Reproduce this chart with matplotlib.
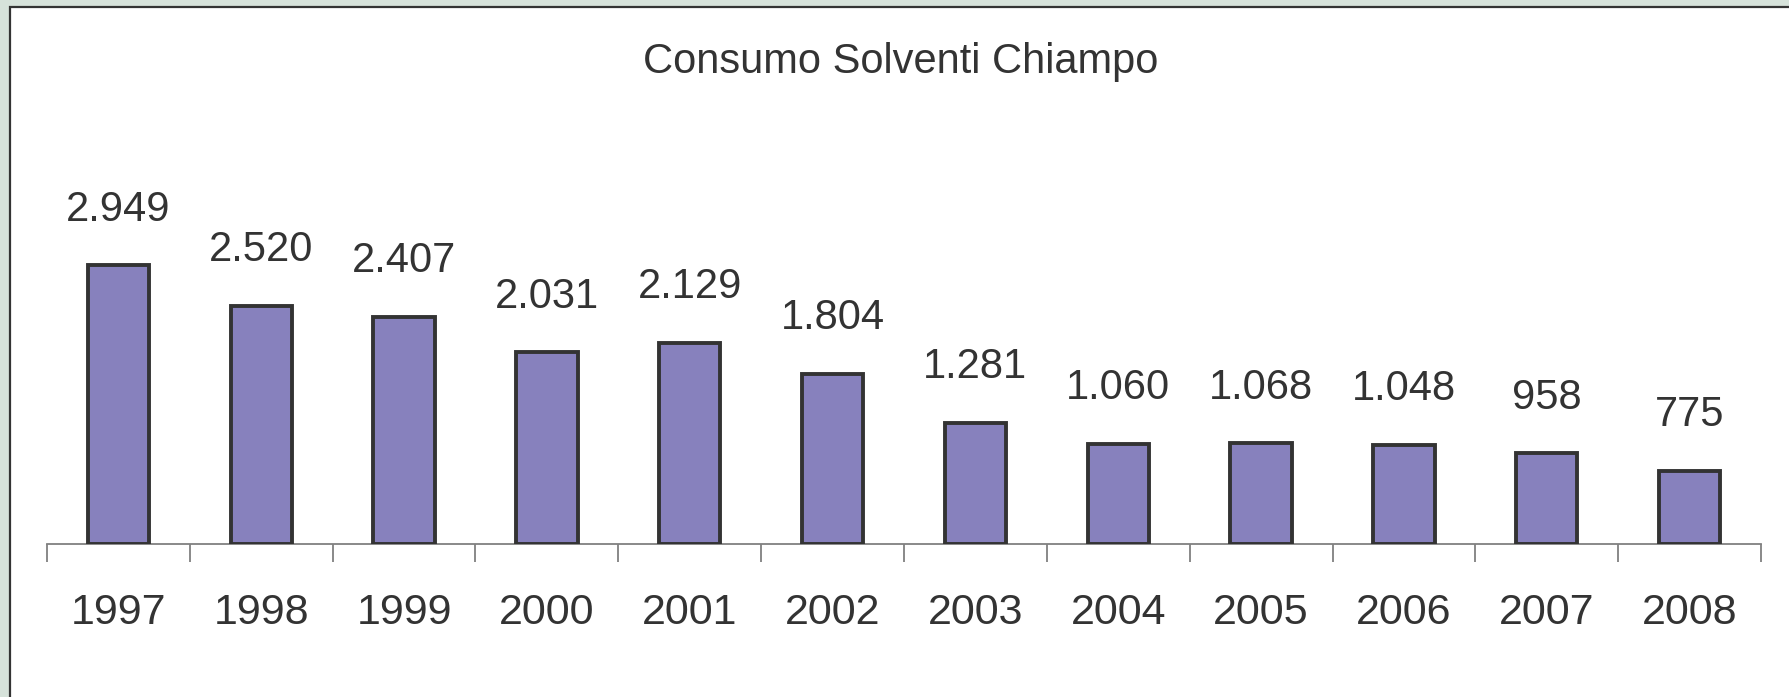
import matplotlib
matplotlib.use('Agg')
import matplotlib.pyplot as plt
from matplotlib.patches import Rectangle

# --- Data ---
years = ['1997', '1998', '1999', '2000', '2001', '2002',
         '2003', '2004', '2005', '2006', '2007', '2008']
consumo = [2949, 2520, 2407, 2031, 2129, 1804, 1281, 1060, 1068, 1048, 958, 775]
value_labels = ['2.949', '2.520', '2.407', '2.031', '2.129', '1.804',
                '1.281', '1.060', '1.068', '1.048', '958', '775']
title = 'Consumo Solventi Chiampo'

FONT = ['Liberation Sans', 'DejaVu Sans']
TEXT_COL = '#333333'
BAR_COL = '#8781bd'

fig = plt.figure(figsize=(17.89, 6.97), dpi=100, facecolor='#d6e2da')

# white chart panel with dark border (behind everything)
panel = Rectangle((10 / 1789, -0.01), 1.02, (697 - 7) / 697 + 0.01,
                  transform=fig.transFigure, facecolor='white',
                  edgecolor='#333333', linewidth=1.6, zorder=-10)
fig.patches.append(panel)

ax = fig.add_axes([47 / 1789, (697 - 544) / 697, (1761 - 47) / 1789, 378 / 697])
ax.set_facecolor('none')
ax.set_zorder(5)

x = list(range(len(years)))
bars = ax.bar(x, consumo, width=0.43, color=BAR_COL, edgecolor='#333333',
              linewidth=2.8, zorder=3)

for rect, lab in zip(bars, value_labels):
    ax.annotate(lab, (rect.get_x() + rect.get_width() / 2, rect.get_height()),
                xytext=(0, 40), textcoords='offset points', ha='center', va='center',
                fontsize=30, family=FONT, color=TEXT_COL, annotation_clip=False)

ax.set_xlim(-0.5, len(years) - 0.5)
ax.set_ylim(0, 4000)

for s in ['top', 'left', 'right']:
    ax.spines[s].set_visible(False)
ax.spines['bottom'].set_color('#808080')
ax.spines['bottom'].set_linewidth(1.3)

ax.set_yticks([])
ax.set_xticks(x)
ax.set_xticklabels(years, fontsize=31, family=FONT, color=TEXT_COL)
ax.tick_params(axis='x', which='major', length=0, pad=35)
ax.set_xticks([i - 0.5 for i in range(len(years) + 1)], minor=True)
ax.tick_params(axis='x', which='minor', length=13, width=1.3, color='#808080')

fig.text(901 / 1789, 1 - 62 / 697, title, ha='center', va='center',
         fontsize=30, family=FONT, color=TEXT_COL)

fig.savefig('out.png', dpi=100, facecolor=fig.get_facecolor())
